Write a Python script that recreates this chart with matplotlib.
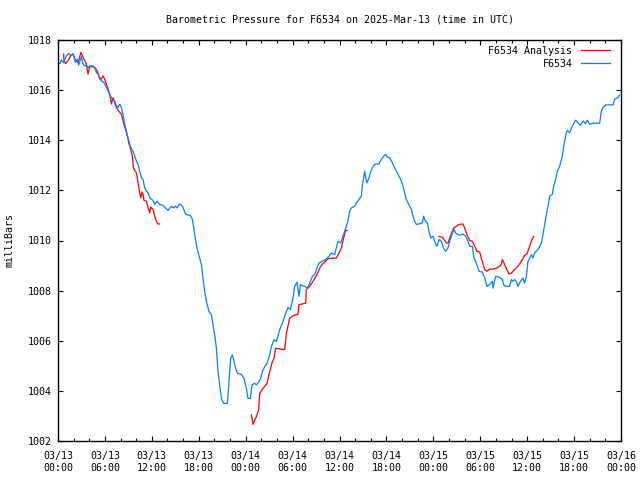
import numpy as np
import matplotlib
matplotlib.use("Agg")
import matplotlib.pyplot as plt
from matplotlib.ticker import MultipleLocator

# hours since 2025-03-13 00:00 UTC
obs_hours = [
    0.0, 0.22, 0.43, 0.73, 1.07, 1.37, 1.71, 1.92, 2.23, 2.48, 2.65, 2.99, 3.2, 3.41, 3.63,
    3.84, 4.05, 4.48, 4.69, 4.91, 5.12, 5.33, 5.55, 5.88, 6.19, 6.61, 6.83, 7.25, 7.47, 7.67,
    7.89, 8.11, 8.31, 8.53, 8.75, 8.95, 9.17, 9.39, 9.59, 9.81, 10.03, 10.23, 10.45, 10.66,
    10.87, 11.09, 11.3, 11.51, 11.73, 12.15, 12.37, 12.66, 13.0, 13.43, 13.64, 14.07, 14.5,
    14.71, 15.05, 15.22, 15.56, 15.91, 16.33, 16.93, 17.19, 17.48, 17.77, 18.12, 18.34,
    18.54, 18.76, 18.98, 19.31, 19.62, 19.82, 20.04, 20.26, 20.46, 20.68, 20.9, 21.19,
    21.66, 21.87, 22.08, 22.3, 22.51, 22.72, 22.94, 23.45, 23.79, 24.09, 24.3, 24.6, 24.81,
    25.15, 25.37, 25.7, 25.92, 26.14, 26.43, 26.73, 27.07, 27.29, 27.62, 27.93, 28.35,
    28.77, 29.12, 29.41, 29.72, 30.05, 30.27, 30.56, 30.82, 31.0, 31.25, 31.55, 31.89,
    32.19, 32.53, 32.83, 33.12, 33.38, 33.81, 34.23, 34.65, 34.96, 35.38, 35.81, 36.15,
    36.45, 36.79, 37.08, 37.3, 37.52, 37.94, 38.16, 38.49, 38.8, 38.93, 39.09, 39.22,
    39.35, 39.51, 39.77, 39.95, 40.2, 40.5, 41.05, 41.36, 41.65, 41.9, 42.12, 42.42, 42.76,
    43.06, 43.48, 43.82, 44.12, 44.33, 44.55, 44.85, 45.19, 45.4, 45.61, 45.83, 46.12,
    46.6, 46.76, 46.98, 47.24, 47.44, 47.66, 47.95, 48.26, 48.47, 48.72, 49.03, 49.32,
    49.58, 49.87, 50.09, 50.38, 50.64, 50.86, 51.15, 51.37, 51.79, 52.14, 52.43, 52.65,
    52.99, 53.2, 53.5, 53.84, 54.27, 54.57, 54.86, 55.2, 55.55, 55.63, 55.97, 56.48, 56.83,
    56.99, 57.25, 57.76, 57.98, 58.18, 58.4, 58.62, 58.82, 59.13, 59.46, 59.68, 59.9, 60.1,
    60.32, 60.54, 60.74, 60.95, 61.38, 61.82, 62.02, 62.24, 62.46, 62.66, 62.88, 63.22,
    63.39, 63.64, 63.86, 64.16, 64.5, 64.71, 65.01, 65.14, 65.43, 65.78, 66.2, 66.5, 66.8,
    67.14, 67.44, 67.7, 67.99, 68.41, 69.27, 69.49, 69.69, 70.04, 70.97, 71.19, 71.61, 71.83,
]
obs_mb = [
    1017.05, 1017.06, 1017.2, 1017.1, 1017.37, 1017.46, 1017.37, 1017.46, 1017.1, 1017.24,
    1017.0, 1017.33, 1017.04, 1016.97, 1017.0, 1016.9, 1016.97, 1016.97, 1016.9, 1016.7,
    1016.64, 1016.44, 1016.37, 1016.3, 1016.1, 1015.84, 1015.7, 1015.57, 1015.37, 1015.3,
    1015.44, 1015.3, 1015.04, 1014.64, 1014.37, 1014.1, 1013.84, 1013.64, 1013.57, 1013.37,
    1013.17, 1013.04, 1012.77, 1012.5, 1012.44, 1012.1, 1011.97, 1011.9, 1011.7, 1011.6,
    1011.44, 1011.57, 1011.44, 1011.4, 1011.33, 1011.2, 1011.37, 1011.3, 1011.37, 1011.3,
    1011.46, 1011.37, 1011.04, 1011.0, 1010.84, 1010.24, 1009.7, 1009.3, 1009.04, 1008.5,
    1007.97, 1007.57, 1007.17, 1007.04, 1006.64, 1006.24, 1005.7, 1004.77, 1004.24, 1003.7,
    1003.5, 1003.5, 1004.37, 1005.3, 1005.44, 1005.17, 1004.9, 1004.7, 1004.66, 1004.5,
    1004.1, 1003.7, 1003.7, 1004.24, 1004.3, 1004.24, 1004.37, 1004.5, 1004.77, 1004.97,
    1005.1, 1005.44, 1005.77, 1006.04, 1005.97, 1006.44, 1006.77, 1007.1, 1007.33, 1007.24,
    1007.7, 1008.17, 1008.34, 1007.77, 1008.24, 1008.2, 1008.17, 1008.1, 1008.3, 1008.57,
    1008.64, 1008.9, 1009.1, 1009.17, 1009.24, 1009.37, 1009.5, 1009.44, 1009.97, 1009.9,
    1010.17, 1010.5, 1010.77, 1011.17, 1011.3, 1011.37, 1011.5, 1011.64, 1011.77, 1012.24,
    1012.5, 1012.77, 1012.5, 1012.3, 1012.5, 1012.7, 1012.9, 1013.04, 1013.06, 1013.24,
    1013.37, 1013.44, 1013.33, 1013.3, 1013.1, 1012.9, 1012.64, 1012.44, 1012.17, 1011.9,
    1011.64, 1011.44, 1011.24, 1010.97, 1010.77, 1010.64, 1010.66, 1010.7, 1010.97, 1010.77,
    1010.7, 1010.37, 1010.1, 1010.17, 1009.9, 1009.77, 1010.04, 1009.97, 1009.68, 1009.57,
    1009.7, 1009.97, 1010.24, 1010.44, 1010.3, 1010.24, 1010.21, 1010.26, 1010.17, 1009.97,
    1009.77, 1009.77, 1009.3, 1009.1, 1008.77, 1008.74, 1008.5, 1008.17, 1008.24, 1008.37,
    1008.1, 1008.57, 1008.53, 1008.44, 1008.24, 1008.17, 1008.17, 1008.44, 1008.37, 1008.44,
    1008.37, 1008.17, 1008.37, 1008.5, 1008.3, 1008.57, 1009.17, 1009.3, 1009.44, 1009.3,
    1009.5, 1009.64, 1009.9, 1010.24, 1010.64, 1011.04, 1011.37, 1011.77, 1011.84, 1012.17,
    1012.44, 1012.77, 1012.97, 1013.37, 1013.84, 1014.3, 1014.4, 1014.3, 1014.57, 1014.8,
    1014.7, 1014.6, 1014.77, 1014.66, 1014.8, 1014.64, 1014.68, 1014.68, 1015.17, 1015.3,
    1015.41, 1015.41, 1015.64, 1015.7, 1015.81,
]

# analysis runs (NaN separates the three runs)
ana_hours = [
    0.73, 0.75, 0.95, 1.28, 1.62, 1.92, 2.23, 2.56, 2.77, 2.9, 3.07, 3.32, 3.63, 3.84, 4.05,
    4.48, 4.78, 5.04, 5.33, 5.55, 5.75, 5.97, 6.19, 6.48, 6.74, 6.83, 7.03, 7.25, 7.47, 7.76,
    8.11, 8.31, 8.62, 8.87, 9.04, 9.3, 9.51, 9.64, 9.81, 10.03, 10.23, 10.45, 10.58, 10.74,
    10.87, 11.0, 11.3, 11.51, 11.73, 11.85, 12.15, 12.37, 12.58, 12.79, 13.0,
    np.nan,
    24.73, 24.94, 25.15, 25.37, 25.66, 25.79, 26.21, 26.73, 27.07, 27.42, 27.62, 27.84,
    28.99, 29.21, 29.63, 30.05, 30.69, 30.82, 31.68, 31.76, 32.19, 32.61, 33.12, 33.47,
    33.81, 34.23, 34.53, 35.6, 35.93, 36.24, 36.53, 36.79, 37.0,
    np.nan,
    48.72, 49.16, 49.67, 49.87, 50.18, 50.6, 50.95, 51.28, 51.79, 52.0, 52.3, 52.65, 52.99,
    53.29, 53.58, 53.93, 54.14, 54.35, 54.57, 54.86, 55.2, 55.63, 56.06, 56.48, 56.7, 56.83,
    57.12, 57.42, 57.67, 57.98, 58.4, 58.82, 59.26, 59.68, 59.97, 60.32, 60.61, 60.86,
]
ana_mb = [
    1017.44, 1017.2, 1017.06, 1017.17, 1017.37, 1017.44, 1017.2, 1017.1, 1017.3, 1017.5,
    1017.41, 1017.24, 1017.04, 1016.64, 1016.93, 1016.93, 1016.88, 1016.74, 1016.5, 1016.44,
    1016.57, 1016.44, 1016.24, 1015.97, 1015.64, 1015.44, 1015.7, 1015.5, 1015.3, 1015.17,
    1015.04, 1014.77, 1014.44, 1014.17, 1013.9, 1013.64, 1013.37, 1012.9, 1012.8, 1012.7,
    1012.3, 1011.9, 1011.7, 1011.94, 1011.84, 1011.6, 1011.57, 1011.33, 1011.1, 1011.33,
    1011.24, 1010.97, 1010.77, 1010.66, 1010.66,
    np.nan,
    1003.04, 1002.66, 1002.84, 1002.97, 1003.24, 1003.9, 1004.1, 1004.3, 1004.77, 1005.17,
    1005.3, 1005.7, 1005.64, 1006.3, 1006.9, 1007.0, 1007.06, 1007.44, 1007.5, 1008.04,
    1008.17, 1008.37, 1008.64, 1008.9, 1009.06, 1009.17, 1009.28, 1009.3, 1009.5, 1009.7,
    1010.1, 1010.4, 1010.4,
    np.nan,
    1010.16, 1010.13, 1009.9, 1009.9, 1010.17, 1010.5, 1010.57, 1010.64, 1010.66, 1010.5,
    1010.24, 1010.0, 1009.97, 1009.77, 1009.57, 1009.54, 1009.3, 1009.06, 1008.84, 1008.77,
    1008.86, 1008.86, 1008.9, 1008.97, 1009.06, 1009.24, 1009.04, 1008.84, 1008.66, 1008.7,
    1008.84, 1008.97, 1009.17, 1009.41, 1009.46, 1009.77, 1010.04, 1010.16,
]

tick_hours = list(range(0, 73, 6))
tick_labels = [
    "03/13\n00:00", "03/13\n06:00", "03/13\n12:00", "03/13\n18:00",
    "03/14\n00:00", "03/14\n06:00", "03/14\n12:00", "03/14\n18:00",
    "03/15\n00:00", "03/15\n06:00", "03/15\n12:00", "03/15\n18:00",
    "03/16\n00:00",
]
y_ticks = [1002, 1004, 1006, 1008, 1010, 1012, 1014, 1016, 1018]

plt.rcParams["font.family"] = ["DejaVu Sans Mono"]
plt.rcParams["font.size"] = 7.2

fig = plt.figure(figsize=(6.4, 4.8), dpi=100)
ax = fig.add_axes([58 / 640, 1 - 441 / 480, 563 / 640, 401 / 480])

ax.plot(ana_hours, ana_mb, color="#ff0000", lw=0.9, label="F6534 Analysis")
ax.plot(obs_hours, obs_mb, color="#0080ff", lw=0.9, label="F6534")

ax.set_xlim(0, 72)
ax.set_ylim(1002, 1018)
ax.set_xticks(tick_hours)
ax.set_xticklabels(tick_labels, linespacing=1.3)
ax.xaxis.set_minor_locator(MultipleLocator(2))
ax.set_yticks(y_ticks)

ax.tick_params(which="both", direction="in", top=True, right=True, width=0.8)
ax.tick_params(which="major", length=3.5)
ax.tick_params(which="minor", length=2)
ax.tick_params(axis="x", pad=7)
ax.tick_params(axis="y", pad=4.5)
for s in ax.spines.values():
    s.set_linewidth(1.0)

fig.text(339.5 / 640, 1 - 19 / 480,
         "Barometric Pressure for F6534 on 2025-Mar-13 (time in UTC)",
         ha="center", va="center")
fig.text(10 / 640, 1 - 240 / 480, "milliBars", rotation=90, ha="center", va="center")

ax.legend(loc="upper right", bbox_to_anchor=((610 - 58) / 563, 1 - 6 / 401),
          frameon=False, markerfirst=False, borderpad=0, borderaxespad=0,
          handlelength=2.9, handletextpad=0.85, labelspacing=0.3)
leg = ax.get_legend()
for t in leg.get_texts():
    t.set_ha("right")
leg._legend_box.align = "right"

fig.savefig("out.png", dpi=100)
